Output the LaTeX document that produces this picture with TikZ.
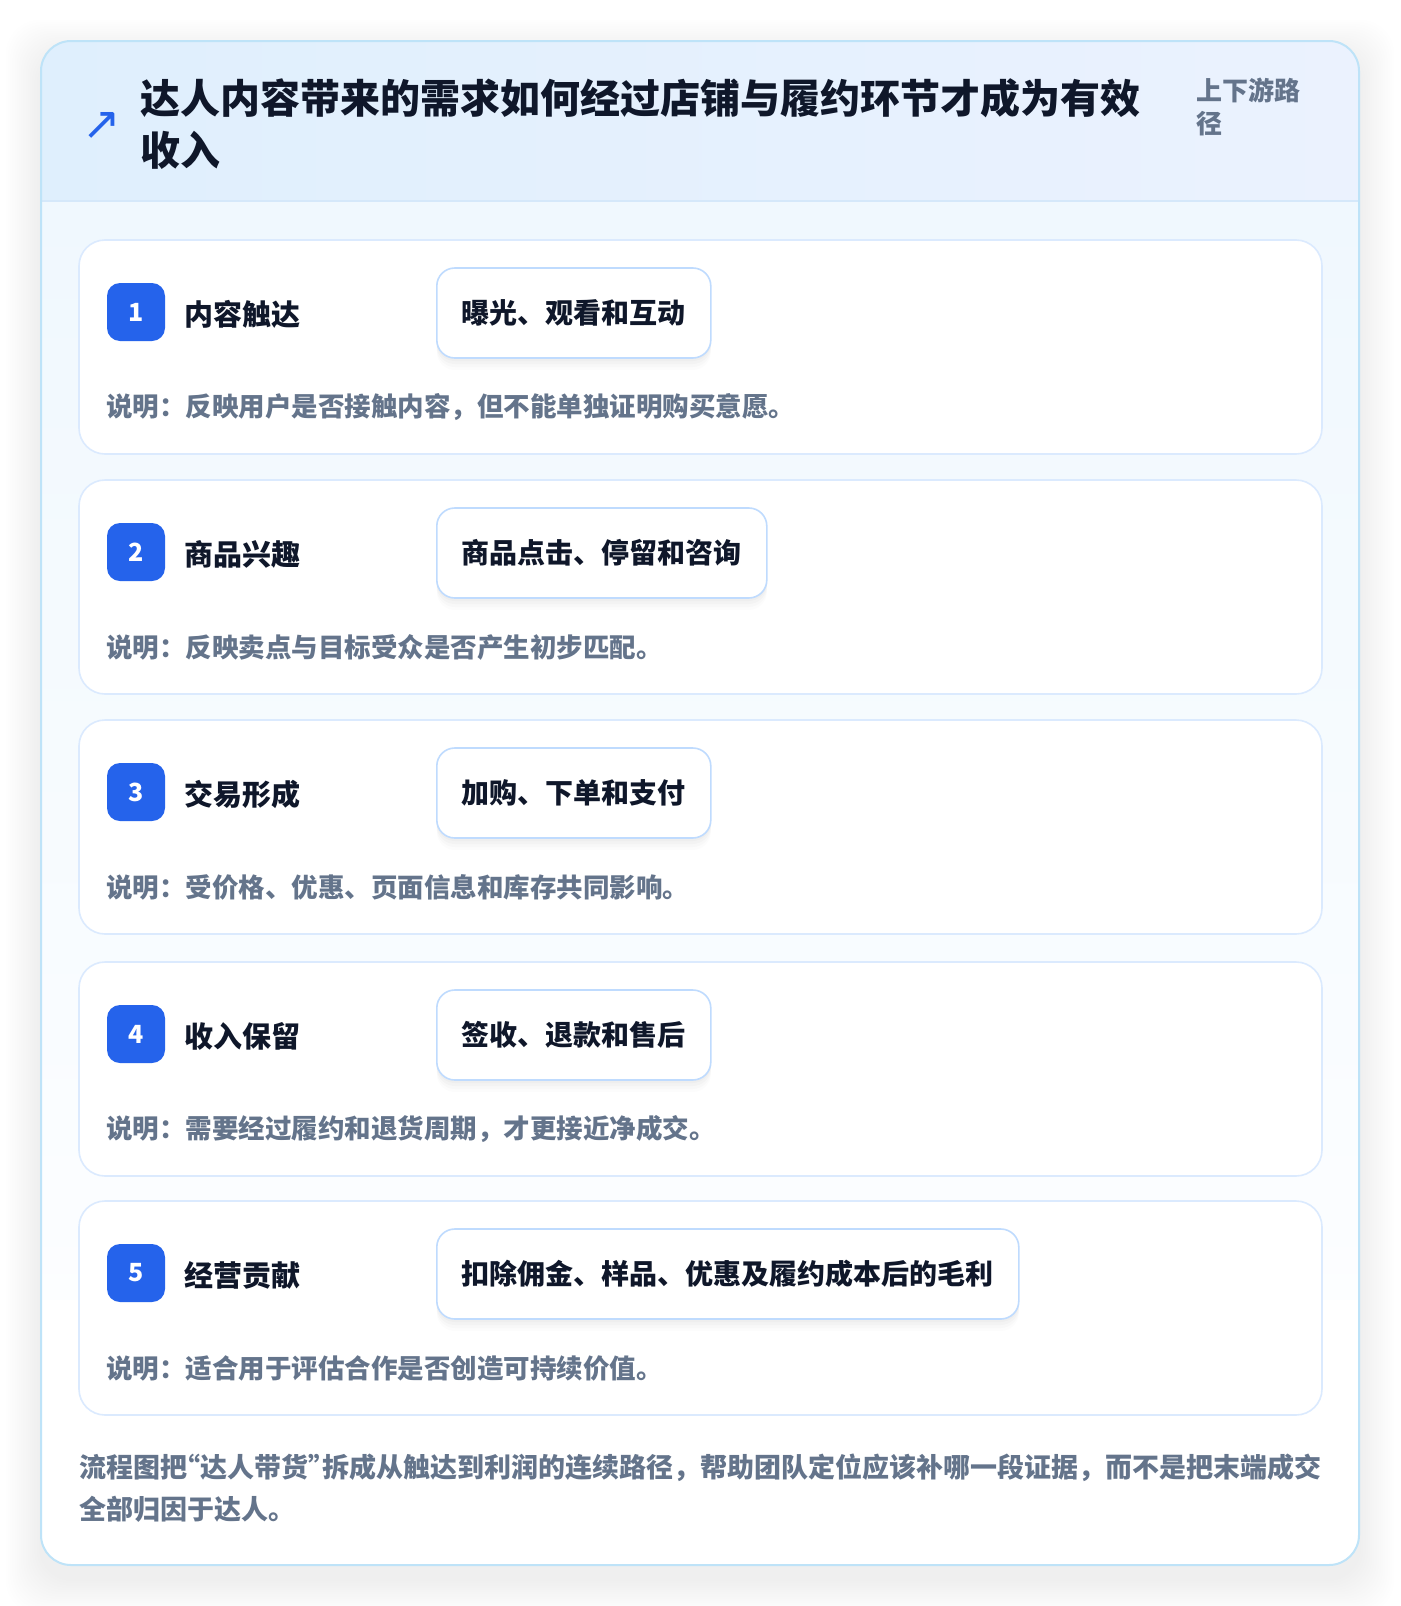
\documentclass[tikz,border=0pt]{standalone}
\usepackage{fontspec}
\setmainfont{Noto Sans CJK SC}
\newfontfamily\symfont{DejaVu Sans}
\definecolor{ink}{HTML}{0F172A}
\definecolor{muted}{HTML}{64748B}
\definecolor{brandblue}{HTML}{2563EB}
\definecolor{outerline}{HTML}{BEE3F8}
\definecolor{cardline}{HTML}{DBEAFE}
\definecolor{pillline}{HTML}{BFDBFE}
\definecolor{hdrL}{HTML}{DFEFFD}
\definecolor{hdrR}{HTML}{EBF2FE}
\definecolor{bodyT}{HTML}{F0F8FE}
\definecolor{hdrline}{HTML}{D5E8FA}
\newcommand{\lqq}{\makebox[0.5em][r]{“}}
\newcommand{\rqq}{\makebox[0.5em][l]{”}}
\tikzset{
  stagecard/.style={draw=cardline, line width=1.6pt, fill=white, rounded corners=26pt},
  badgebox/.style={fill=brandblue, text=white, rounded corners=13pt, minimum size=58pt, inner sep=0pt, font=\bfseries\fontsize{25}{27}\selectfont},
  stagetitle/.style={anchor=west, inner sep=0pt, text=ink, font=\bfseries\fontsize{29}{34}\selectfont},
  pillbox/.style={anchor=west, draw=pillline, line width=1.6pt, fill=white, rounded corners=18pt, minimum height=90pt, inner xsep=25pt, text=ink, font=\bfseries\fontsize{28}{32}\selectfont,
    preaction={fill=black, opacity=0.012, transform canvas={yshift=-12pt}},
    preaction={fill=black, opacity=0.015, transform canvas={yshift=-9pt}},
    preaction={fill=black, opacity=0.018, transform canvas={yshift=-6pt}},
    preaction={fill=black, opacity=0.02, transform canvas={yshift=-3pt}}},
  desctext/.style={anchor=west, inner sep=0pt, text=muted, font=\bfseries\fontsize{26.5}{30}\selectfont},
  foottext/.style={anchor=west, inner sep=0pt, text=muted, font=\bfseries\fontsize{27}{30}\selectfont},
}
\begin{document}
\begin{tikzpicture}[x=1pt,y=-1pt]
\useasboundingbox (0,0) rectangle (1400,1606);
\fill[white] (0,0) rectangle (1400,1606);
% outer shadow
\foreach \i in {1,...,16}{
  \fill[black, opacity=0.0055, rounded corners=34pt] (41-2.2*\i,41-2.2*\i+14) rectangle (1359+2.2*\i,1565+2.2*\i+14);
}
% outer card
\begin{scope}
  \clip[rounded corners=30pt] (41,41) rectangle (1359,1565);
  \shade[top color=bodyT, bottom color=white] (41,201) rectangle (1359,1565);
  \fill[white] (41,1300) rectangle (1359,1565);
  \shade[left color=hdrL, right color=hdrR] (41,41) rectangle (1359,201);
  \draw[hdrline, line width=1.5pt] (41,201) -- (1359,201);
\end{scope}
\draw[outerline, line width=2pt, rounded corners=30pt] (41,41) rectangle (1359,1565);
% header
\node[text=brandblue, inner sep=0pt, font=\symfont\fontsize{46}{46}\selectfont] (icon) at (102,126) {↗};
\node[anchor=west, inner sep=0pt, text=ink, font=\bfseries\fontsize{40}{48}\selectfont] (title1) at (140,98) {达人内容带来的需求如何经过店铺与履约环节才成为有效};
\node[anchor=west, inner sep=0pt, text=ink, font=\bfseries\fontsize{40}{48}\selectfont] (title2) at (140,150) {收入};
\node[anchor=west, inner sep=0pt, text=muted, font=\bfseries\fontsize{26}{30}\selectfont] (side1) at (1196,90) {上下游路};
\node[anchor=west, inner sep=0pt, text=muted, font=\bfseries\fontsize{26}{30}\selectfont] (side2) at (1196,124) {径};
% stage cards
\foreach \n/\ty/\ttl/\pill/\desc in {
  1/240/内容触达/曝光、观看和互动/说明：反映用户是否接触内容，但不能单独证明购买意愿。,
  2/480/商品兴趣/商品点击、停留和咨询/说明：反映卖点与目标受众是否产生初步匹配。,
  3/720/交易形成/加购、下单和支付/说明：受价格、优惠、页面信息和库存共同影响。,
  4/962/收入保留/签收、退款和售后/说明：需要经过履约和退货周期，才更接近净成交。,
  5/1201/经营贡献/扣除佣金、样品、优惠及履约成本后的毛利/说明：适合用于评估合作是否创造可持续价值。}{
  \draw[stagecard] (79,\ty) rectangle (1322,\ty+214);
  \node[badgebox] (badge\n) at (136,\ty+72) {\n};
  \node[stagetitle] (title\n) at (184,\ty+74) {\ttl};
  \node[pillbox] (pill\n) at (436,\ty+73) {\pill};
  \node[desctext] (desc\n) at (106,\ty+167) {\desc};
}
% footer
\node[foottext] (foot1) at (79,1468) {流程图把\lqq 达人带货\rqq 拆成从触达到利润的连续路径，帮助团队定位应该补哪一段证据，而不是把末端成交};
\node[foottext] (foot2) at (79,1509) {全部归因于达人。};
\end{tikzpicture}
\end{document}
